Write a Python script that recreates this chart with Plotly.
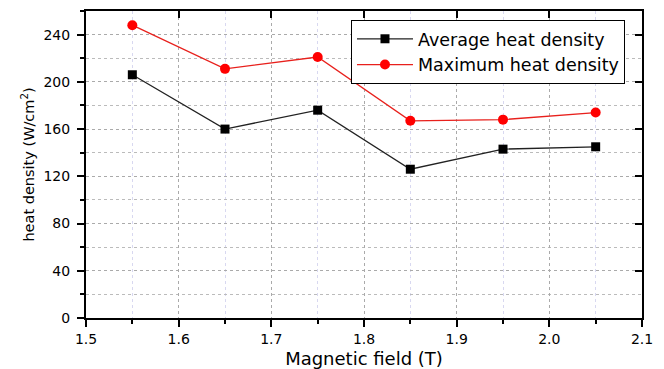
import plotly.graph_objects as go

field = [1.55, 1.65, 1.75, 1.85, 1.95, 2.05]
avg_density = [206, 160, 176, 126, 143, 145]
max_density = [248, 211, 221, 167, 168, 174]
x_ticks = [1.5, 1.6, 1.7, 1.8, 1.9, 2.0, 2.1]
x_tick_text = ["1.5", "1.6", "1.7", "1.8", "1.9", "2.0", "2.1"]
y_ticks = [0, 40, 80, 120, 160, 200, 240]

font_family = "DejaVu Sans, Liberation Sans, Arial, sans-serif"

xr = [1.5, 2.1]
yr = [0, 260]

fig = go.Figure()
fig.add_trace(go.Scatter(
    x=field, y=avg_density, mode="lines+markers", name="Average heat density",
    line=dict(color="#222222", width=1.3),
    marker=dict(symbol="square", size=9, color="black"),
))
fig.add_trace(go.Scatter(
    x=field, y=max_density, mode="lines+markers", name="Maximum heat density",
    line=dict(color="#e8201c", width=1.3),
    marker=dict(symbol="circle", size=10, color="#ff0000"),
))
# helper trace so the mirrored top/right frame axes are drawn
fig.add_trace(go.Scatter(
    x=[None], y=[None], xaxis="x2", yaxis="y2", showlegend=False,
    hoverinfo="skip", mode="markers",
))

# page body has an 8px margin, so the figure is 8px smaller than the window
fig.update_layout(
    width=656, height=361,
    margin=dict(l=78, r=22, t=3, b=51),
    paper_bgcolor="white", plot_bgcolor="white",
    font=dict(family=font_family, color="black", size=14),
    showlegend=True,
    legend=dict(
        x=0.4766, y=0.971, xanchor="left", yanchor="top",
        bordercolor="black", borderwidth=1, bgcolor="white",
        font=dict(size=17.5, family=font_family),
        tracegroupgap=0, itemwidth=56,
    ),
    xaxis=dict(
        range=xr, tickvals=x_ticks, ticktext=x_tick_text,
        showline=True, linecolor="black", linewidth=2,
        ticks="outside", ticklen=7, tickwidth=2, tickcolor="black",
        showgrid=True, gridcolor="#aaaaaa", griddash="dot", gridwidth=1,
        minor=dict(dtick=0.05, tick0=1.5, ticks="outside", ticklen=4, tickwidth=2,
                   tickcolor="black", showgrid=True, gridcolor="#d8d8f0", gridwidth=1),
        tickfont=dict(size=14),
        title=dict(text="Magnetic field (T)", font=dict(size=18), standoff=8),
        zeroline=False, automargin=False,
    ),
    yaxis=dict(
        range=yr, tickvals=y_ticks,
        showline=True, linecolor="black", linewidth=2,
        ticks="outside", ticklen=7, tickwidth=2, tickcolor="black",
        showgrid=True, gridcolor="#aaaaaa", griddash="dot", gridwidth=1,
        minor=dict(dtick=20, tick0=0, ticks="outside", ticklen=4, tickwidth=2,
                   tickcolor="black", showgrid=True, gridcolor="#bbbbbb", griddash="dot", gridwidth=1),
        tickfont=dict(size=14),
        ticklabelstandoff=4,
        title=dict(text="heat density (W/cm<sup>2</sup>)", font=dict(size=14.5), standoff=5),
        zeroline=False, automargin=False,
    ),
    xaxis2=dict(
        range=xr, overlaying="x", side="top", tickvals=x_ticks, anchor="y2",
        showticklabels=False, showline=True, linecolor="black", linewidth=2,
        ticks="inside", ticklen=7, tickwidth=2, tickcolor="black",
        showgrid=False, zeroline=False, automargin=False,
    ),
    yaxis2=dict(
        range=yr, overlaying="y", side="right", tickvals=y_ticks, anchor="x2",
        showticklabels=False, showline=True, linecolor="black", linewidth=2,
        ticks="inside", ticklen=7, tickwidth=2, tickcolor="black",
        showgrid=False, zeroline=False, automargin=False,
    ),
)

fig.write_html("out.html")
